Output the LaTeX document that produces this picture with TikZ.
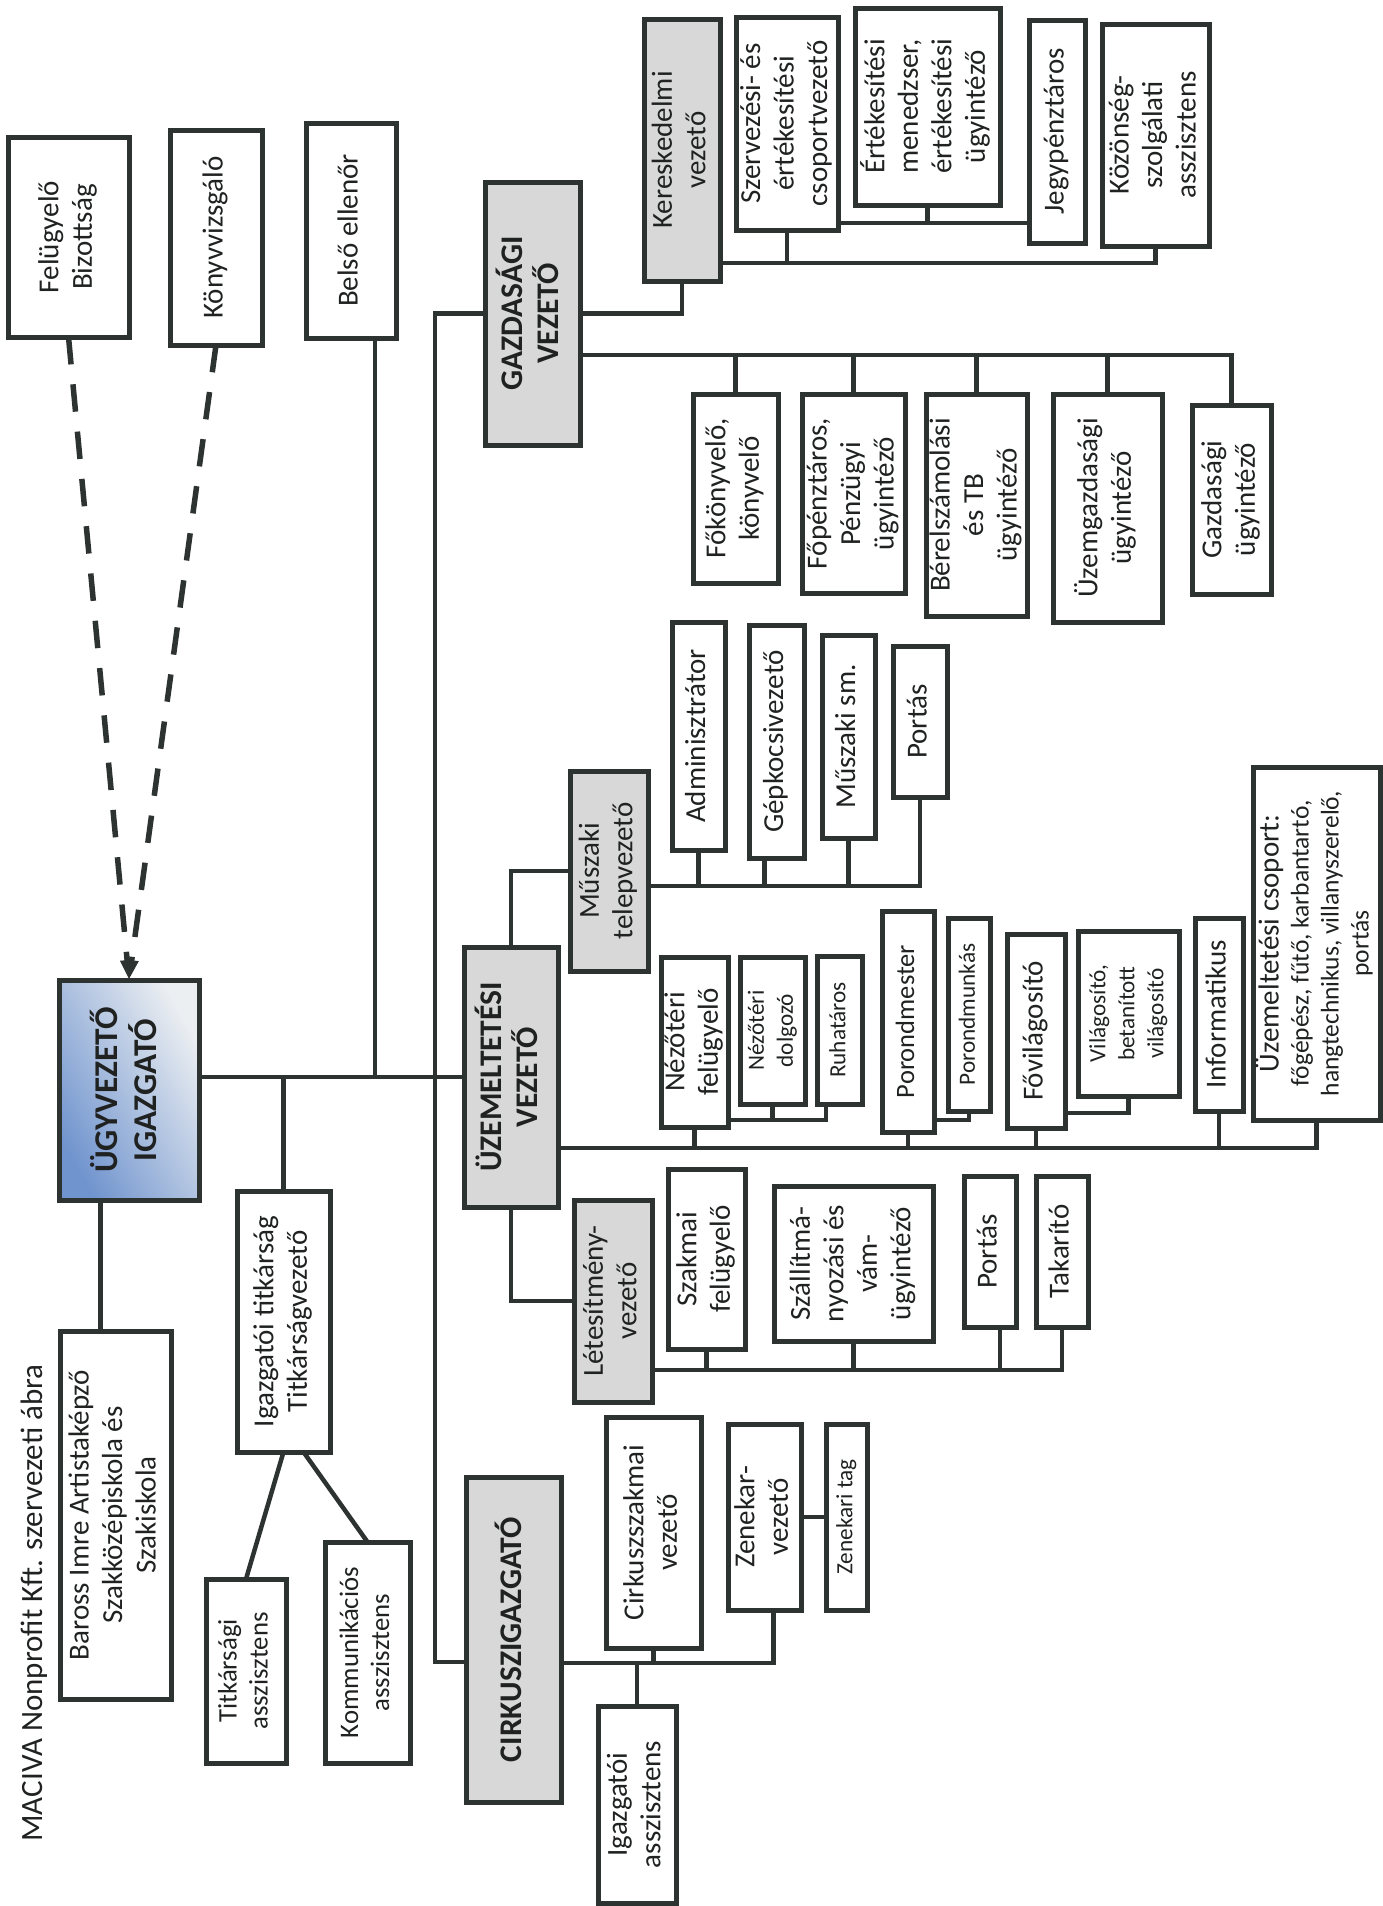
\documentclass[tikz,border=0pt]{standalone}
\usepackage{fontspec}
\setmainfont{Carlito}
\usepackage{graphicx}
\usetikzlibrary{arrows.meta}
\definecolor{lc}{RGB}{45,51,49}
\definecolor{gf}{RGB}{216,216,216}
\definecolor{bl}{RGB}{112,148,206}
\definecolor{bw}{RGB}{236,239,242}
\definecolor{tc}{RGB}{32,34,34}
\newcommand\rt[1]{\rotatebox{90}{\begin{tabular}{@{}c@{}}#1\end{tabular}}}
\newcommand\fN{\fontsize{11.6pt}{13.4pt}\selectfont}
\newcommand\fM{\fontsize{10.6pt}{12.4pt}\selectfont}
\newcommand\fK{\fontsize{10.7pt}{12.4pt}\selectfont}
\newcommand\fS{\fontsize{9.3pt}{11.6pt}\selectfont}
\newcommand\fU{\fontsize{10.2pt}{12pt}\selectfont}
\newcommand\fB{\fontsize{12.6pt}{13.4pt}\selectfont\bfseries}
\newcommand\fH{\fontsize{13.3pt}{15.2pt}\selectfont\bfseries}
\newcommand\fT{\fontsize{12.4pt}{14pt}\selectfont}
\newcommand\Bx[7]{\node[#6, anchor=north west, minimum width={(#4-#2)*0.4pt}, minimum height={(#5-#3)*0.4pt}] (#1) at (#2,#3) {\rt{#7}};}
\begin{document}
\begin{tikzpicture}[x=0.4pt,y=-0.4pt,
  box/.style={draw=lc, line width=2pt, fill=white, inner sep=0pt, outer sep=0pt, text=tc, font=\fN},
  gbox/.style={box, fill=gf},
  hbox/.style={box, fill=gf, font=\fB},
  topbox/.style={box, left color=bl, right color=bw, shading angle=120, font=\fH},
  sm/.style={font=\fS},
  md/.style={font=\fM},
  ka/.style={font=\fK},
  ln/.style={draw=lc, line width=1.8pt},
  dln/.style={draw=lc, line width=2.2pt, dash pattern=on 11pt off 8pt, -{Triangle[length=8pt,width=5pt]}}]
\useasboundingbox (0,0) rectangle (1382,1906);
\node[font=\fT, text=tc, inner sep=0pt] (title) at (34,1603) {\rotatebox{90}{MACIVA Nonprofit Kft. szervezeti ábra}};
% top row
\Bx{fb}{8}{137}{129}{337}{box}{Felügyelő\\Bizottság}
\Bx{kv}{170}{130}{262}{345}{box}{Könyvvizsgáló}
\Bx{be}{306}{123}{396}{338}{box}{Belső ellenőr}
\Bx{gv}{485}{182}{580}{445}{hbox}{GAZDASÁGI\\VEZETŐ}
\Bx{ker}{644}{19}{720}{281}{gbox}{Kereskedelmi\\vezető}
\Bx{sze}{736}{17}{838}{230}{box}{Szervezési- és\\értékesítési\\csoportvezető}
\Bx{ert}{855}{8}{1000}{205}{box}{Értékesítési\\menedzser,\\értékesítési\\ügyintéző}
\Bx{jegy}{1029}{20}{1085}{243}{box}{Jegypénztáros}
\Bx{koz}{1102}{24}{1209}{246}{box}{Közönség-\\szolgálati\\asszisztens}
\Bx{fok}{693}{394}{778}{583}{box}{Főkönyvelő,\\könyvelő}
\Bx{fop}{802}{394}{905}{593}{box}{Főpénztáros,\\Pénzügyi\\ügyintéző}
\Bx{ber}{926}{394}{1027}{616}{box}{Bérelszámolási\\és TB\\ügyintéző}
\Bx{uzg}{1053}{394}{1162}{622}{box}{Üzemgazdasági\\ügyintéző}
\Bx{gu}{1192}{405}{1271}{594}{box}{Gazdasági\\ügyintéző}
% middle
\Bx{ugy}{59}{980}{199}{1200}{topbox}{ÜGYVEZETŐ\\IGAZGATÓ}
\Bx{uv}{464}{947}{558}{1207}{hbox}{ÜZEMELTETÉSI\\VEZETŐ}
\Bx{mt}{570}{771}{648}{971}{gbox}{Műszaki\\telepvezető}
\Bx{adm}{672}{622}{725}{850}{box}{Adminisztrátor}
\Bx{gep}{749}{625}{804}{858}{box}{Gépkocsivezető}
\Bx{msm}{822}{635}{875}{838}{box}{Műszaki sm.}
\Bx{por1}{893}{646}{947}{797}{box}{Portás}
\Bx{nf}{661}{957}{727}{1127}{box}{Nézőtéri\\felügyelő}
\Bx{nd}{740}{957}{805}{1104}{box,sm}{Nézőtéri\\dolgozó}
\Bx{ruh}{817}{956}{862}{1104}{box,sm}{Ruhatáros}
\Bx{pm}{882}{911}{934}{1132}{box,md}{Porondmester}
\Bx{pmk}{948}{918}{990}{1111}{box,sm}{Porondmunkás}
\Bx{fvl}{1007}{934}{1065}{1128}{box}{Fővilágosító}
\Bx{vil}{1078}{931}{1179}{1096}{box,sm}{Világosító,\\betanított\\világosító}
\Bx{inf}{1195}{918}{1243}{1111}{box}{Informatikus}
\Bx{ucs}{1253}{767}{1380}{1120}{box,font=\fU}{{\fN Üzemeltetési csoport:}\\főgépész, fűtő, karbantartó,\\hangtechnikus, villanyszerelő,\\portás}
\Bx{let}{574}{1200}{652}{1402}{gbox}{Létesítmény-\\vezető}
\Bx{szf}{668}{1169}{745}{1349}{box}{Szakmai\\felügyelő}
\Bx{szal}{774}{1186}{933}{1341}{box}{Szállítmá-\\nyozási és\\vám-\\ügyintéző}
\Bx{por2}{964}{1176}{1016}{1327}{box}{Portás}
\Bx{tak}{1036}{1176}{1088}{1327}{box}{Takarító}
% bottom
\Bx{bar}{60}{1331}{171}{1699}{box}{Baross Imre Artistaképző\\Szakközépiskola és\\Szakiskola}
\Bx{tit}{237}{1191}{330}{1452}{box}{Igazgatói titkárság\\Titkárságvezető}
\Bx{tasz}{206}{1579}{286}{1763}{box,ka}{Titkársági\\asszisztens}
\Bx{kom}{325}{1542}{410}{1763}{box,ka}{Kommunikációs\\asszisztens}
\Bx{cirk}{466}{1477}{561}{1802}{hbox}{CIRKUSZIGAZGATÓ}
\Bx{csz}{606}{1417}{701}{1648}{box}{Cirkuszszakmai\\vezető}
\Bx{zen}{728}{1424}{801}{1610}{box}{Zenekar-\\vezető}
\Bx{zt}{826}{1424}{867}{1610}{box,sm}{Zenekari tag}
\Bx{iasz}{598}{1706}{676}{1903}{box}{Igazgatói\\asszisztens}
% helper coordinates
\coordinate (trb) at (435,1662);
\coordinate (kb) at (0,263);
\coordinate (k2) at (0,223);
\coordinate (gb) at (0,355);
\coordinate (mb) at (0,886);
\coordinate (ub) at (0,1148);
\coordinate (nb) at (0,1120);
\coordinate (vb) at (0,1113);
\coordinate (lb) at (0,1370);
\coordinate (cb) at (0,1663);
\coordinate (beb) at ([xshift=9.6pt]be.south);
\coordinate (bab) at ([xshift=-11.4pt]ugy.south);
\coordinate (gepb) at ([xshift=-4.8pt]gep.south);
\coordinate (ruhb) at ([xshift=-5.4pt]ruh.south);
\coordinate (por2b) at ([xshift=4pt]por2.south);
\coordinate (zenb) at ([xshift=3.6pt]zen.south);
\coordinate (titb) at ([xshift=8pt]tit.south);
% dashed
\draw[dln] (fb.south) -- (ugy.north);
\draw[dln] (kv.south) -- (ugy.north);
% main lines
\draw[ln] (ugy.east |- uv.west) -- (uv.west);
\draw[ln] (beb) -- (beb |- uv.west);
\draw[ln] (gv.west) -| (trb) -- (trb -| cirk.west);
\draw[ln] (tit.north) -- (tit.north |- uv.west);
\draw[ln] (bab) -- (bab |- bar.north);
\draw[ln] (tit.south) -- (tasz.north);
\draw[ln] (titb) -- (kom.north);
% gazdasagi
\draw[ln] (gv.east) -| (ker.south);
\draw[ln] (kb -| ker.east) -| (koz.south);
\draw[ln] (sze.south) -- (sze.south |- kb);
\draw[ln] (k2 -| sze.east) -- (k2 -| jegy.west);
\draw[ln] (ert.south) -- (ert.south |- k2);
\draw[ln] (gb -| gv.east) -| (gu.north);
\foreach \n in {fok,fop,ber,uzg} \draw[ln] (\n.north) -- (\n.north |- gb);
% uzemeltetesi
\draw[ln] (uv.north) |- (mt.west);
\draw[ln] (mb -| mt.east) -| (por1.south);
\draw[ln] (adm.south) -- (adm.south |- mb);
\draw[ln] (gepb) -- (gepb |- mb);
\draw[ln] (msm.south) -- (msm.south |- mb);
\draw[ln] (ub -| uv.east) -| (ucs.south);
\foreach \n in {nf,pm,fvl,inf} \draw[ln] (\n.south) -- (\n.south |- ub);
\draw[ln] (nb -| nf.east) -| (ruhb);
\draw[ln] (nd.south) -- (nd.south |- nb);
\draw[ln] (nb -| pm.east) -| (pmk.south);
\draw[ln] (vb -| fvl.east) -| (vil.south);
\draw[ln] (uv.south) |- (let.west);
\draw[ln] (lb -| let.east) -| (tak.south);
\draw[ln] (szf.south) -- (szf.south |- lb);
\draw[ln] (szal.south) -- (szal.south |- lb);
\draw[ln] (por2b) -- (por2b |- lb);
% cirkusz
\draw[ln] (cb -| cirk.east) -| (zenb);
\draw[ln] (csz.south) -- (csz.south |- cb);
\draw[ln] (iasz.north) -- (iasz.north |- cb);
\draw[ln] (zen.east) -- (zt.west);
\end{tikzpicture}
\end{document}
